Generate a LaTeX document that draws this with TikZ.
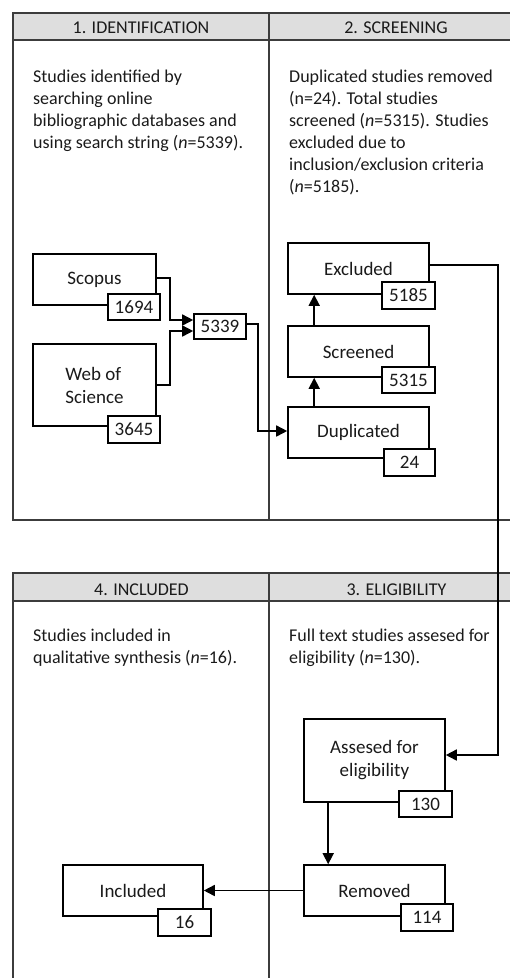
\documentclass[tikz,border=0pt]{standalone}
\usepackage{fontspec}
\setmainfont{Carlito}
\usetikzlibrary{arrows.meta,calc}
\definecolor{ink}{HTML}{1A1A1A}
\definecolor{rule}{HTML}{3C3C3C}
\definecolor{headfill}{HTML}{DEDEDE}
\begin{document}
\begin{tikzpicture}[x=1pt,y=-1pt,
  every node/.style={text=ink},
  body/.style={font={\fontsize{18}{22}\selectfont},anchor=north west,align=left,inner sep=0pt},
  headtxt/.style={font={\fontsize{18}{22}\selectfont},anchor=base,inner sep=0pt},
  mainbox/.style={draw=black,line width=1.6pt,fill=white,font={\fontsize{19}{23}\selectfont},
    minimum width=141pt,minimum height=51pt,inner sep=0pt,align=center},
  numbox/.style={draw=black,line width=1.6pt,fill=white,font={\fontsize{19}{23}\selectfont},
    minimum width=53pt,minimum height=27pt,inner sep=0pt},
  arr/.style={draw=black,line width=1.6pt,-{Triangle[length=11pt,width=11pt]}},
  tline/.style={draw=rule,line width=1.1pt}
]
\useasboundingbox (0,0) rectangle (510,978);

% ---- upper table: identification / screening ----
\fill[headfill] (13,13) rectangle (523,40);
\draw[tline] (523,13) -- (13,13) -- (13,520) -- (523,520);
\draw[tline] (13,40) -- (523,40);
\draw[tline] (269,13) -- (269,520);
\node[headtxt] (h1) at (141,33.5) {1. IDENTIFICATION};
\node[headtxt] (h2) at (396,33.5) {2. SCREENING};
\node[body] (t1) at (33,70) {Studies identified by\\searching online\\bibliographic databases and\\using search string (\textit{n}=5339).};
\node[body] (t2) at (289,70) {Duplicated studies removed\\(n=24). Total studies\\screened (\textit{n}=5315). Studies\\excluded due to\\inclusion/exclusion criteria\\(\textit{n}=5185).};

% ---- lower table: included / eligibility ----
\fill[headfill] (13,573) rectangle (523,601);
\draw[tline] (523,573) -- (13,573) -- (13,978);
\draw[tline] (13,601) -- (523,601);
\draw[tline] (269,573) -- (269,978);
\node[headtxt] (h4) at (141.5,595) {4. INCLUDED};
\node[headtxt] (h3) at (396.5,595) {3. ELIGIBILITY};
\node[body] (t4) at (33,629) {Studies included in\\qualitative synthesis (\textit{n}=16).};
\node[body] (t3) at (289,629) {Full text studies assesed for\\eligibility (\textit{n}=130).};

% ---- boxes ----
\node[mainbox,minimum width=123pt] (scopus) at (94.5,279.5) {Scopus};
\node[mainbox,minimum width=123pt,minimum height=82pt,align=left] (wos) at (94.5,385) {Web of\\Science};
\node[mainbox] (excluded) at (358.5,268.5) {Excluded};
\node[mainbox] (screened) at (358.5,351.5) {Screened};
\node[mainbox] (duplicated) at (358.5,432.5) {Duplicated};
\node[mainbox,minimum height=83pt] (assessed) at (374.5,760.5) {Assesed for\\eligibility};
\node[mainbox] (removed) at (374.5,890.5) {Removed};
\node[mainbox,minimum width=140pt] (included) at (133,890.5) {Included};

% ---- counts ----
\node[numbox,minimum width=52pt,minimum height=26pt] (n1694) at (134,307) {1694};
\node[numbox,minimum width=52pt] (n3645) at (134,429.5) {3645};
\node[numbox,minimum width=52pt,minimum height=25pt] (n5339) at (220,326.5) {5339};
\node[numbox] (n5185) at (408.5,295.5) {5185};
\node[numbox,minimum height=26pt] (n5315) at (408.5,380) {5315};
\node[numbox,minimum width=51pt] (n24) at (409.5,462.5) {24};
\node[numbox,minimum height=26pt] (n130) at (425.5,804) {130};
\node[numbox,minimum width=52pt] (n114) at (427,917.5) {114};
\node[numbox] (n16) at (184.5,922.5) {16};

% ---- connectors ----
\draw[arr] ($(scopus.east)+(0,-1.5)$) -- ++(13,0) |- ($(n5339.west)+(0,-6.5)$);
\draw[arr] (wos.east) -- ++(13,0) |- ($(n5339.west)+(0,4.5)$);
\draw[arr] ($(n5339.east)+(0,-2.5)$) -- ++(11,0) |- ($(duplicated.west)+(0,-1.5)$);
\draw[arr] ($(duplicated.north west)+(27,0)$) -- ($(screened.south west)+(27,0)$);
\draw[arr] ($(screened.north west)+(27,0)$) -- ($(excluded.south west)+(27,0)$);
\draw[arr] ($(excluded.east)+(0,-3.5)$) -- ++(68,0) |- ($(assessed.east)+(0,-5.5)$);
\draw[arr] ($(assessed.south west)+(25,0)$) -- ($(removed.north west)+(25,0)$);
\draw[arr] (removed.west) -- (included.east);
\end{tikzpicture}
\end{document}
